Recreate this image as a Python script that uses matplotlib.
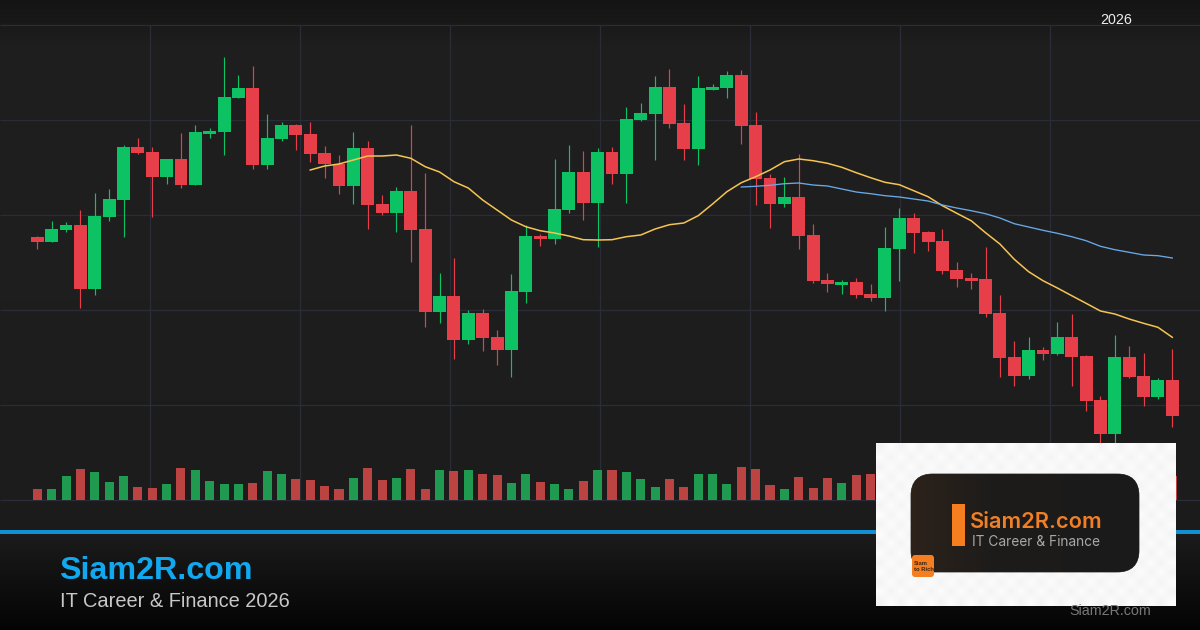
import numpy as np
import matplotlib

matplotlib.use("Agg")
import matplotlib.pyplot as plt
from matplotlib.patches import FancyBboxPatch, Rectangle

UP_COLOR = "#0cc262"
DOWN_COLOR = "#e63f4a"
UP_VOL_COLOR = "#1f9a50"
DOWN_VOL_COLOR = "#bb4442"
MA20_COLOR = "#f6c452"
MA50_COLOR = "#6aa9e8"
GRID_COLOR = "#2a2d38"

opens = [
    263, 258, 270, 275, 211, 283, 300, 353, 348, 323, 341, 315, 366, 368, 402, 412,
    335, 361, 375, 366, 347, 336, 314, 352, 296, 287, 309, 271, 188, 204, 160, 187,
    163, 150, 208, 264, 261, 290, 328, 297, 348, 326, 380, 386, 413, 377, 351, 410,
    412, 425, 375, 322, 296, 303, 265, 220, 215, 218, 206, 202, 251, 282, 268, 259,
    230, 222, 221, 187, 143, 124, 150, 146, 163, 144, 100, 66, 143, 124, 103, 120,
]
closes = [
    258, 271, 275, 211, 284, 301, 353, 347, 323, 341, 315, 368, 369, 403, 412, 335,
    362, 375, 365, 346, 336, 314, 352, 295, 287, 309, 270, 188, 204, 160, 187, 162,
    150, 209, 264, 261, 291, 328, 297, 348, 326, 381, 387, 413, 376, 351, 412, 413,
    425, 374, 321, 296, 303, 264, 219, 216, 218, 205, 202, 252, 282, 267, 258, 229,
    221, 219, 186, 142, 124, 150, 146, 163, 143, 99, 66, 143, 123, 103, 120, 84,
]
highs = [
    264, 279, 278, 290, 307, 311, 355, 362, 353, 341, 367, 375, 372, 443, 425, 434,
    386, 378, 376, 378, 354, 345, 368, 359, 305, 313, 375, 327, 227, 242, 190, 191,
    170, 226, 275, 266, 341, 355, 349, 352, 353, 393, 397, 424, 431, 396, 424, 416,
    429, 430, 388, 326, 323, 346, 276, 227, 220, 222, 216, 273, 292, 287, 269, 271,
    238, 227, 253, 205, 159, 163, 153, 178, 186, 145, 104, 165, 154, 147, 122, 151,
]
lows = [
    251, 258, 268, 192, 205, 279, 263, 346, 283, 316, 312, 315, 362, 345, 402, 331,
    331, 359, 350, 338, 322, 306, 296, 271, 285, 268, 238, 173, 177, 141, 156, 149,
    135, 123, 197, 254, 256, 287, 280, 253, 316, 297, 379, 340, 372, 340, 335, 410,
    402, 356, 295, 272, 293, 251, 217, 208, 206, 202, 199, 189, 219, 247, 249, 226,
    213, 211, 183, 123, 114, 121, 140, 145, 114, 89, 50, 50, 122, 94, 101, 73,
]
# bars 59-78 sit behind the logo and cannot be read
volumes = [
    11, 11, 24, 31, 28, 18, 24, 13, 12, 16, 32, 30, 19, 16, 16, 17,
    29, 26, 21, 20, 14, 11, 22, 32, 20, 22, 31, 11, 30, 29, 30, 26,
    25, 17, 26, 18, 16, 11, 19, 30, 30, 28, 21, 13, 21, 13, 26, 26,
    16, 33, 31, 15, 11, 23, 12, 22, 17, 25, 26,
] + [np.nan] * 20 + [24]

ma20_start = 19
ma20 = [
    330, 334, 336, 340, 344, 344, 345, 341.7, 333.3, 328, 318.3, 312, 300, 290, 280,
    273.3, 269.3, 267, 264, 260.3, 260, 260.3, 263.3, 265, 271, 275.3, 277, 284.3,
    296, 308.3, 317.3, 323.3, 330, 338.3, 341, 339.3, 336.7, 332.7, 327.3, 322.3,
    317.7, 315.3, 309.3, 303.3, 294.3, 286.7, 279.3, 267.3, 256, 240.7, 228.3, 219.3,
    212, 204.3, 196.7, 189, 186, 181, 176.7, 172.7, 162.7,
]
ma50_start = 49
ma50 = [
    313, 313.7, 314.7, 316.3, 317, 315, 314, 311, 308, 306.3, 304.3, 303, 301, 299,
    295, 292, 289.3, 286.3, 282, 276.3, 273, 269.7, 266.7, 263.3, 259.3, 253.7, 250.3,
    247.7, 245, 244.3, 242,
]
price_grid = [0, 95, 190, 285, 380, 475]

W, H = 1200, 630
BAR_STEP = 14.367  # px per candle
FIRST_BAR = 37.3  # px of candle 0


def px_to_bar(x):
    return (x - FIRST_BAR) / BAR_STEP


fig = plt.figure(figsize=(12, 6.3), dpi=100)
plt.rcParams["font.family"] = ["Liberation Sans", "DejaVu Sans"]

# page background
bg = fig.add_axes([0, 0, 1, 1], zorder=0)
bg.set_xlim(0, W)
bg.set_ylim(H, 0)
bg.axis("off")
rows = np.arange(H)
shade = np.interp(rows, [0, 45, 300, 500, 535, 630], [0x14, 0x1e, 0x1e, 0x1c, 0x1b, 0x04])
bg.imshow(np.repeat(shade[:, None, None], 3, axis=2) / 255, extent=(0, W, H, 0), aspect="auto")

# price panel, candles and volume share one axes
ax = fig.add_axes([0, 0, 1, 1], zorder=1)
ax.patch.set_alpha(0)
ax.axis("off")
ax.set_xlim(px_to_bar(0), px_to_bar(W))
ax.set_ylim(-130, 500)

idx = np.arange(len(opens))
o, c, hi, lo = map(np.array, (opens, closes, highs, lows))
up = c >= o
colors = np.where(up, UP_COLOR, DOWN_COLOR)
vol_colors = np.where(up, UP_VOL_COLOR, DOWN_VOL_COLOR)

ax.hlines(price_grid, px_to_bar(0), px_to_bar(W), color=GRID_COLOR, lw=0.9, zorder=1)
ax.vlines(px_to_bar(np.arange(150, W, 150)), 0, 475, color=GRID_COLOR, lw=0.9, zorder=1)

ax.bar(idx, volumes, width=0.63, color=vol_colors, zorder=2)
ax.vlines(idx, lo, hi, color=colors, lw=0.85, zorder=3)
ax.bar(idx, np.abs(c - o), bottom=np.minimum(o, c), width=0.9, color=colors, zorder=4)
ax.plot(idx[ma20_start:], ma20, color=MA20_COLOR, lw=1.1, zorder=5)
ax.plot(idx[ma50_start:], ma50, color=MA50_COLOR, lw=0.95, zorder=5)

# footer, logo and labels in pixel coordinates
top = fig.add_axes([0, 0, 1, 1], zorder=2)
top.patch.set_alpha(0)
top.axis("off")
top.set_xlim(0, W)
top.set_ylim(H, 0)

top.add_patch(Rectangle((0, 530), W, 4, color="#1290d2", lw=0, zorder=1))
top.text(59.5, 579, "Siam2R.com", color="#12a8f0", fontsize=23.2, fontweight="bold", va="baseline")
top.text(60, 607, "IT Career & Finance 2026", color="#c8c8c8", fontsize=14.4, va="baseline")
top.text(1116, 20, "2026", color="#eeeeee", fontsize=10.3, ha="center", va="center")
top.text(1110, 611, "Siam2R.com", color="#787878", fontsize=10.3, ha="center", va="center")

# logo card on a pale checker
checker = (np.indices((17, 30)).sum(axis=0) % 2) * 0.035 + 0.955
top.imshow(
    np.repeat(checker[:, :, None], 3, axis=2),
    extent=(876, 1176, 606, 443), aspect="auto", interpolation="bilinear", zorder=2,
)
card = FancyBboxPatch(
    (911, 474), 228, 98, boxstyle="round,pad=0,rounding_size=22",
    fc="#1b1b1b", ec="#3a3a3a", lw=0.6, zorder=3,
)
top.add_patch(card)
warm = np.zeros((2, 60, 3))
warm[..., 0] = np.interp(np.arange(60), [0, 20, 59], [0x2c, 0x1e, 0x1a]) / 255
warm[..., 1] = np.interp(np.arange(60), [0, 20, 59], [0x22, 0x1c, 0x1a]) / 255
warm[..., 2] = np.interp(np.arange(60), [0, 20, 59], [0x1a, 0x1b, 0x1a]) / 255
glow = top.imshow(warm, extent=(911, 1139, 572, 474), aspect="auto", zorder=3.1)
glow.set_clip_path(card)
top.add_patch(Rectangle((952, 504), 13, 42, color="#f57f20", lw=0, zorder=4))
top.text(970, 528, "Siam2R.com", color="#f07f26", fontsize=15.7, family="Inter",
         fontweight="semibold", va="baseline", zorder=4)
top.text(972, 546, "IT Career & Finance", color="#a8a8a8", fontsize=9.9, family="Inter",
         va="baseline", zorder=4)
top.add_patch(FancyBboxPatch(
    (912, 555), 22, 22, boxstyle="round,pad=0,rounding_size=3",
    fc="#f57f20", ec="none", zorder=5,
))
top.text(914, 566.5, "Siam\nto Rich", color="#3a2410", fontsize=4.2, fontweight="bold",
         va="center", linespacing=1.05, zorder=6)
top.set_xlim(0, W)
top.set_ylim(H, 0)

fig.savefig("out.png", dpi=100, facecolor="#1c1c1c")
plt.close(fig)
